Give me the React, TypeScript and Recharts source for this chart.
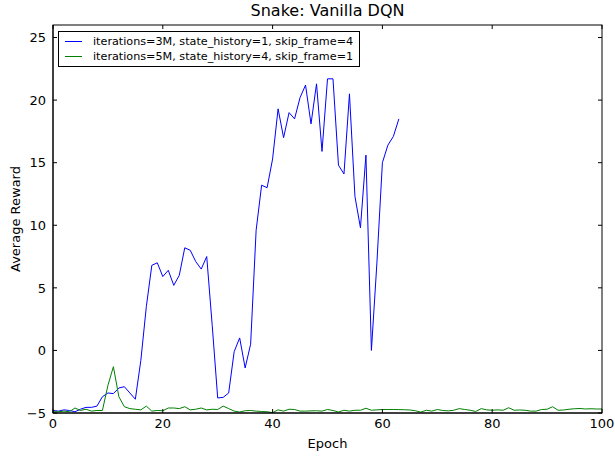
import React from 'react'
import { LineChart, Line, XAxis, YAxis } from 'recharts'

// average reward per epoch
const run3M = [
  -4.8, -4.85, -4.75, -4.8, -4.9, -4.7, -4.55, -4.55, -4.45, -3.7,
  -3.4, -3.45, -3.0, -2.9, -3.4, -3.9, -0.8, 3.5, 6.8, 7.0,
  5.9, 6.4, 5.2, 6.0, 8.2, 8.0, 7.1, 6.5, 7.5, 2.0,
  -3.8, -3.75, -3.4, -0.1, 1.0, -1.4, 0.5, 9.6, 13.2, 13.0,
  15.3, 19.3, 17.0, 19.0, 18.5, 20.2, 21.2, 18.1, 21.3, 15.9,
  21.7, 21.7, 14.8, 14.1, 20.5, 12.3, 9.8, 15.6, 0.0, 7.0,
  15.0, 16.4, 17.1, 18.5,
]

const run5M = [
  -4.9, -4.9, -4.85, -4.9, -4.6, -4.8, -4.7, -4.85, -4.8, -4.8,
  -2.8, -1.3, -3.7, -4.5, -4.65, -4.7, -4.75, -4.45, -4.85, -4.8,
  -4.82, -4.6, -4.6, -4.65, -4.5, -4.75, -4.7, -4.6, -4.75, -4.7,
  -4.72, -4.45, -4.65, -4.85, -4.92, -4.82, -4.8, -4.85, -4.88, -4.9,
  -4.97, -4.75, -4.85, -4.7, -4.72, -4.85, -4.85, -4.83, -4.82, -4.85,
  -4.72, -4.8, -4.92, -4.78, -4.85, -4.78, -4.78, -4.62, -4.78, -4.75,
  -4.72, -4.72, -4.72, -4.73, -4.74, -4.76, -4.82, -4.93, -4.78, -4.85,
  -4.72, -4.8, -4.83, -4.78, -4.65, -4.72, -4.78, -4.88, -4.65, -4.75,
  -4.78, -4.75, -4.78, -4.58, -4.78, -4.76, -4.78, -4.85, -4.85, -4.72,
  -4.7, -4.5, -4.78, -4.76, -4.7, -4.66, -4.64, -4.68, -4.66, -4.68,
  -4.68,
]

const epochs = run5M.map((_, i) => i)
const xTicks = [0, 20, 40, 60, 80, 100]
const yTicks = [-5, 0, 5, 10, 15, 20, 25]
const xMax = 100
const yMin = -5
const yMax = 26

const label3M = 'iterations=3M, state_history=1, skip_frame=4'
const label5M = 'iterations=5M, state_history=4, skip_frame=1'

const data = epochs.map((e, i) => ({
  epoch: e,
  a: i < run3M.length ? run3M[i] : undefined,
  b: run5M[i],
}))

// plot box (chart margins + axis sizes)
const W = 615
const H = 457
const M = { top: 25, right: 13, bottom: 0, left: 0 }
const Y_W = 53
const X_H = 44
const PL = M.left + Y_W
const PT = M.top
const PW = W - PL - M.right
const PH = H - PT - X_H

const FONT = '"DejaVu Sans", sans-serif'
const TICK = 4
const fmt = (v: number) => (v < 0 ? '\u2212' + Math.abs(v) : String(v))

const BottomTick = (p: any) => (
  <g>
    <line x1={p.x} x2={p.x} y1={p.y - 5} y2={p.y - 5 - TICK} stroke="#000" />
    <text x={p.x} y={p.y} dy="0.8em" textAnchor="middle" fontSize={13} fontFamily={FONT} fill="#000">
      {fmt(p.payload.value)}
    </text>
  </g>
)

const LeftTick = (p: any) => (
  <g>
    <line x1={p.x + 7} x2={p.x + 7 + TICK} y1={p.y} y2={p.y} stroke="#000" />
    <text x={p.x} y={p.y} dy="0.36em" textAnchor="end" fontSize={13} fontFamily={FONT} fill="#000">
      {fmt(p.payload.value)}
    </text>
  </g>
)

const YLabel = (p: any) => {
  const cy = p.viewBox.y + p.viewBox.height / 2
  return (
    <text x={15} y={cy} transform={`rotate(-90, 15, ${cy})`} textAnchor="middle" dominantBaseline="central"
      fontSize={13} fontFamily={FONT} fill="#000">
      Average Reward
    </text>
  )
}

const legendItems = [
  { c: '#0000ff', t: label3M },
  { c: '#008000', t: label5M },
]

// top/right frame with inward ticks, like the matplotlib box
const Frame = () => (
  <svg width={W} height={H} style={{ position: 'absolute', left: 0, top: 0, pointerEvents: 'none' }}>
    <rect x={PL} y={PT} width={PW} height={PH} fill="none" stroke="#000" />
    {xTicks.map((t) => {
      const x = PL + (t / xMax) * PW
      return <line key={'t' + t} x1={x} x2={x} y1={PT} y2={PT + TICK} stroke="#000" />
    })}
    {yTicks.map((t) => {
      const y = PT + PH - ((t - yMin) / (yMax - yMin)) * PH
      return <line key={'r' + t} x1={PL + PW} x2={PL + PW - TICK} y1={y} y2={y} stroke="#000" />
    })}
  </svg>
)

export default function App() {
  return (
    <div style={{ position: 'absolute', left: 0, top: 0, width: W, height: H, background: '#fff' }}>
      <div style={{
        position: 'absolute', left: PL, width: PW, top: 1, textAlign: 'center',
        fontFamily: FONT, fontSize: 16, color: '#000',
      }}>
        Snake: Vanilla DQN
      </div>
      <div style={{
        position: 'absolute', left: PL, width: PW, top: 436, textAlign: 'center',
        fontFamily: FONT, fontSize: 13, color: '#000',
      }}>
        Epoch
      </div>
      <LineChart width={W} height={H} data={data} margin={M}>
        <XAxis dataKey="epoch" type="number" domain={[0, xMax]} ticks={xTicks} height={X_H}
          tickSize={0} tickMargin={5} tick={BottomTick} axisLine={{ stroke: '#000' }} />
        <YAxis type="number" domain={[yMin, yMax]} ticks={yTicks} width={Y_W} tickSize={0} tickMargin={7}
          tick={LeftTick} axisLine={{ stroke: '#000' }} label={<YLabel />} allowDataOverflow />
        <Line dataKey="a" name={label3M} stroke="#0000ff" strokeWidth={1} dot={false} isAnimationActive={false} />
        <Line dataKey="b" name={label5M} stroke="#008000" strokeWidth={1} dot={false} isAnimationActive={false} />
      </LineChart>
      <Frame />
      <div style={{
        position: 'absolute', left: 58, top: 31, border: '1px solid #000', background: '#fff',
        padding: '2px 6px 2px 6px', fontFamily: FONT, fontSize: 11.2, lineHeight: '15px', color: '#000',
      }}>
        {legendItems.map((it) => (
          <div key={it.t} style={{ display: 'flex', alignItems: 'center' }}>
            <span style={{ display: 'inline-block', width: 17, height: 0, borderTop: `1px solid ${it.c}`, marginRight: 11 }} />
            <span>{it.t}</span>
          </div>
        ))}
      </div>
    </div>
  )
}
